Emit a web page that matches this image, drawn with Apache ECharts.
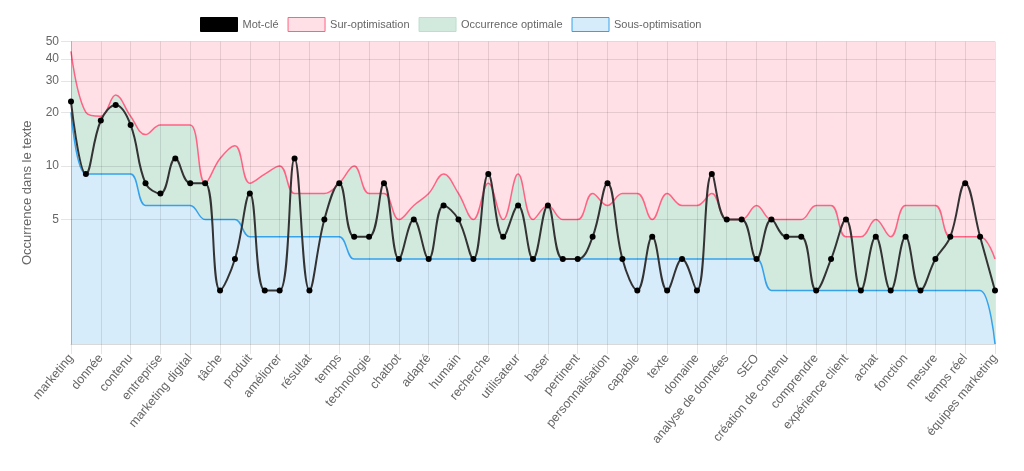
<!DOCTYPE html>
<html><head><meta charset="utf-8">
<script src="https://cdn.jsdelivr.net/npm/echarts@6/dist/echarts.min.js"></script>
<style>html,body{margin:0;padding:0;background:#fff}#c{width:1024px;height:471px}</style>
</head><body><div id="c"></div><script>
// Categories (every other one is labelled on the axis)
const categories = [
  'marketing','client','donnée','stratégie','contenu','intelligence artificielle','entreprise','outil',
  'marketing digital','campagne','tâche','analyse','produit','automatisation','améliorer','processus',
  'résultat','efficacité','temps','information','technologie','permettre','chatbot','personnaliser',
  'adapté','besoin','humain','algorithme','recherche','prédictif','utilisateur','optimiser',
  'baser','consommateur','pertinent','génératif','personnalisation','créer','capable','solution',
  'texte','tendance','domaine','public','analyse de données','interaction','SEO','décision',
  'création de contenu','message','comprendre','performance','expérience client','réseau social','achat','mots-clés',
  'fonction','engagement','mesure','émotion','temps réel','innovation','équipes marketing'
];
const keywordValues = [
  23, 9, 18, 22, 17, 8, 7, 11, 8, 8, 2, 3, 7, 2, 2, 11,
  2, 5, 8, 4, 4, 8, 3, 5, 3, 6, 5, 3, 9, 4, 6, 3,
  6, 3, 3, 4, 8, 3, 2, 4, 2, 3, 2, 9, 5, 5, 3, 5,
  4, 4, 2, 3, 5, 2, 4, 2, 4, 2, 3, 4, 8, 4, 2
];
const upperValues = [
  44, 20, 19, 25, 19, 15, 17, 17, 17, 8, 11, 13, 8, 9, 10, 7,
  7, 7, 8, 10, 7, 7, 5, 6, 7, 9, 7, 5, 8, 5, 9, 5,
  6, 5, 5, 7, 6, 7, 7, 5, 7, 6, 6, 7, 5, 5, 6, 5,
  5, 5, 6, 6, 4, 4, 5, 4, 6, 6, 6, 4, 4, 4, 3
];
const lowerValues = [
  20, 9, 9, 9, 9, 6, 6, 6, 6, 5, 5, 5, 4, 4, 4, 4,
  4, 4, 4, 3, 3, 3, 3, 3, 3, 3, 3, 3, 3, 3, 3, 3,
  3, 3, 3, 3, 3, 3, 3, 3, 3, 3, 3, 3, 3, 3, 3, 2,
  2, 2, 2, 2, 2, 2, 2, 2, 2, 2, 2, 2, 2, 2, 1
];
const yTicks = [5, 10, 20, 30, 40, 50];

const FONT = "'Liberation Sans', Arial, Helvetica, sans-serif";
const RED = 'rgb(255,99,132)', PINK = 'rgb(255,224,230)';
const BLUE = 'rgb(54,162,235)', LBLUE = 'rgb(215,236,251)';
const GREEN = 'rgb(210,233,222)', GREENB = 'rgb(190,222,205)';
const GRID = 'rgba(0,0,0,0.1)';

const chart = echarts.init(document.getElementById('c'), null, {renderer: 'canvas'});
chart.setOption({
  animation: false,
  textStyle: {fontFamily: FONT},
  legend: {
    left: 200, top: 17, padding: 0, itemWidth: 37, itemHeight: 14, itemGap: 9, icon: 'rect',
    textStyle: {fontSize: 11, color: '#666', fontFamily: FONT},
    data: [
      {name: 'Mot-clé', itemStyle: {color: '#000', borderColor: '#000', borderWidth: 1}},
      {name: 'Sur-optimisation', itemStyle: {color: PINK, borderColor: RED, borderWidth: 1}},
      {name: 'Occurrence optimale', itemStyle: {color: GREEN, borderColor: GREENB, borderWidth: 1}},
      {name: 'Sous-optimisation', itemStyle: {color: LBLUE, borderColor: BLUE, borderWidth: 1}}
    ]
  },
  grid: {left: 71, right: 29, top: 41.5, bottom: 127, containLabel: false},
  xAxis: {
    type: 'category', data: categories, boundaryGap: false, z: 4,
    axisLine: {show: true, lineStyle: {color: 'rgba(0,0,0,0.15)'}},
    axisTick: {show: true, interval: 1, length: 10, lineStyle: {color: GRID}},
    splitLine: {show: true, interval: 1, lineStyle: {color: GRID}},
    axisLabel: {interval: 1, rotate: 50, margin: 12, fontSize: 12.5, color: '#666', fontFamily: FONT}
  },
  yAxis: {
    type: 'log', logBase: 10, min: 1, max: 50, z: 4,
    name: 'Occurrence dans le texte', nameLocation: 'middle', nameGap: 37,
    nameTextStyle: {fontSize: 13, color: '#666', fontFamily: FONT},
    axisLine: {show: true, lineStyle: {color: 'rgba(0,0,0,0.15)'}},
    axisTick: {show: true, length: 10, customValues: yTicks, lineStyle: {color: GRID}},
    splitLine: {show: true, lineStyle: {color: GRID}},
    axisLabel: {customValues: yTicks, margin: 12, fontSize: 12, color: '#666', fontFamily: FONT}
  },
  series: [
    {name: 'Occurrence optimale', type: 'line', data: upperValues, smooth: 0.4, symbol: 'none',
     lineStyle: {width: 0, color: GREEN}, itemStyle: {color: GREEN},
     areaStyle: {origin: 'start', color: GREEN, opacity: 1}, z: 1},
    {name: 'Sur-optimisation', type: 'line', data: upperValues, smooth: 0.4, symbol: 'none',
     lineStyle: {width: 1.5, color: RED}, itemStyle: {color: RED},
     areaStyle: {origin: 'end', color: PINK, opacity: 1}, z: 2},
    {name: 'Sous-optimisation', type: 'line', data: lowerValues, smooth: 0.4, symbol: 'none',
     lineStyle: {width: 1.5, color: BLUE}, itemStyle: {color: BLUE},
     areaStyle: {origin: 'start', color: LBLUE, opacity: 1}, z: 2},
    {name: 'Mot-clé', type: 'line', data: keywordValues, smooth: 0.4, symbol: 'circle', symbolSize: 6,
     lineStyle: {width: 2, color: '#333'}, itemStyle: {color: '#000'}, z: 6}
  ]
});
</script></body></html>
